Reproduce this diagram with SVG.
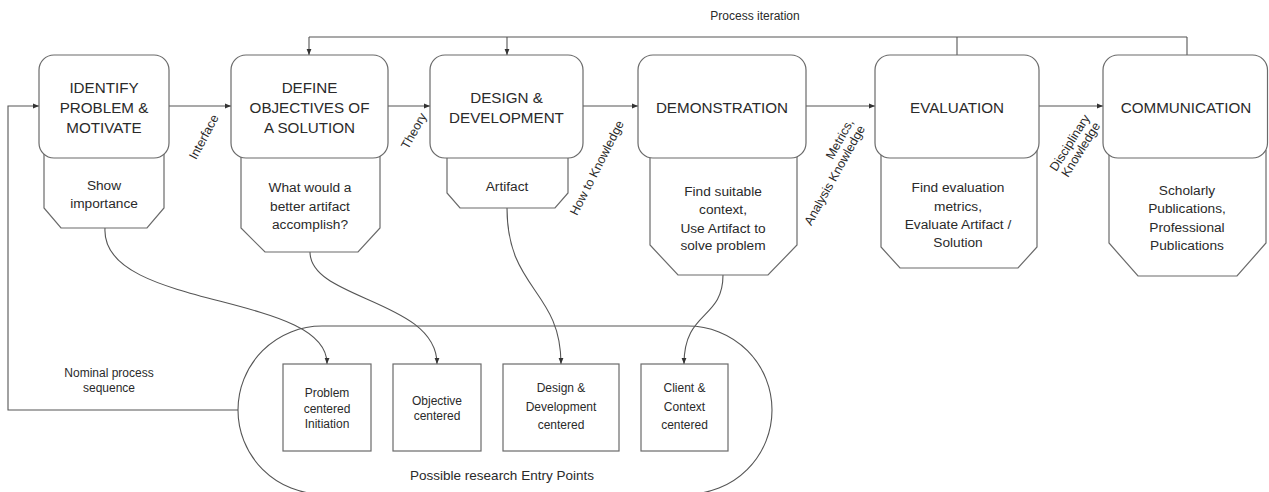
<svg xmlns="http://www.w3.org/2000/svg" width="1269" height="492" viewBox="0 0 1269 492">
<defs>
<marker id="ah" viewBox="0 0 10 10" refX="10" refY="5" markerWidth="6" markerHeight="6" markerUnits="userSpaceOnUse" orient="auto">
<path d="M0,1 L10,5 L0,9 Z" fill="#333"/>
</marker>
<style>
.box{fill:#fff;stroke:#6a6a6a;stroke-width:1.2}
.sub{fill:#fff;stroke:#6a6a6a;stroke-width:1.2}
.ln{fill:none;stroke:#555;stroke-width:1.1}
.t{font-family:"Liberation Sans",Arial,sans-serif;fill:#2a2a2a;text-anchor:middle}
.title{font-size:15.2px}
.s{font-size:13.7px}
.lab{font-size:12.5px}
.sm{font-size:12px}
</style>
</defs>
<rect width="1269" height="492" fill="#fff"/>

<g id="connectors">
<path class="ln" d="M309,37 H1187"/>
<path class="ln" d="M309,37 V55" marker-end="url(#ah)"/>
<path class="ln" d="M507,37 V55" marker-end="url(#ah)"/>
<path class="ln" d="M957,37 V55"/>
<path class="ln" d="M1187,37 V55"/>
<path class="ln" d="M169,106 H231" marker-end="url(#ah)"/>
<path class="ln" d="M388,106 H430" marker-end="url(#ah)"/>
<path class="ln" d="M583,106 H638" marker-end="url(#ah)"/>
<path class="ln" d="M806,106 H875" marker-end="url(#ah)"/>
<path class="ln" d="M1039,106 H1103" marker-end="url(#ah)"/>
<path class="ln" d="M238,410 H8 V106 H39" marker-end="url(#ah)"/>
<path class="ln" d="M105,228 C100,310 328,292 327,364" marker-end="url(#ah)"/>
<path class="ln" d="M310,252 C310,300 437,300 437,364" marker-end="url(#ah)"/>
<path class="ln" d="M507,208 C507,290 561,290 561,364" marker-end="url(#ah)"/>
<path class="ln" d="M723,275 C723,320 684,310 684,364" marker-end="url(#ah)"/>
<text class="t sm" x="755" y="20">Process iteration</text>
<text class="t sm" x="109" y="377">Nominal process</text>
<text class="t sm" x="109" y="392">sequence</text>
<g transform="translate(204,137) rotate(-62)"><text class="t lab" x="0" y="4">Interface</text></g>
<g transform="translate(414,131) rotate(-61)"><text class="t lab" x="0" y="4">Theory</text></g>
<g transform="translate(597,168) rotate(-63)"><text class="t lab" x="0" y="4">How to Knowledge</text></g>
<g transform="translate(854,122) rotate(-61)"><text class="t lab" style="text-anchor:end" x="0" y="0">Metrics,</text><text class="t lab" style="text-anchor:end" x="0" y="13">Analysis Knowledge</text></g>
<g transform="translate(1075,146) rotate(-58)"><text class="t lab" x="0" y="-2">Disciplinary</text><text class="t lab" x="0" y="11">Knowledge</text></g>
</g>

<g id="n1">
<path class="sub" d="M44,150 V208 L61,228 H147 L164,208 V150"/>
<rect class="box" x="39" y="55" width="130" height="103" rx="15"/>
<text class="t title" x="104" y="92.5">IDENTIFY</text>
<text class="t title" x="104" y="112.5">PROBLEM &amp;</text>
<text class="t title" x="104" y="132.5">MOTIVATE</text>
<text class="t s" x="104" y="190">Show</text>
<text class="t s" x="104" y="207.5">importance</text>
</g>

<g id="n2">
<path class="sub" d="M241,150 V228 L265,252 H358 L380,228 V150"/>
<rect class="box" x="231" y="55" width="157" height="103" rx="15"/>
<text class="t title" x="309.5" y="92.5">DEFINE</text>
<text class="t title" x="309.5" y="112.5">OBJECTIVES OF</text>
<text class="t title" x="309.5" y="132.5">A SOLUTION</text>
<text class="t s" x="310" y="192">What would a</text>
<text class="t s" x="310" y="210.5">better artifact</text>
<text class="t s" x="310" y="229">accomplish?</text>
</g>

<g id="n3">
<path class="sub" d="M447,150 V193 L460,208 H555 L568,193 V150"/>
<rect class="box" x="430" y="55" width="153" height="103" rx="15"/>
<text class="t title" x="506.5" y="102.5">DESIGN &amp;</text>
<text class="t title" x="506.5" y="122.5">DEVELOPMENT</text>
<text class="t s" x="507" y="191">Artifact</text>
</g>

<g id="n4">
<path class="sub" d="M650,150 V245 L678,275 H768 L797,245 V150"/>
<rect class="box" x="638" y="55" width="168" height="103" rx="15"/>
<text class="t title" x="722" y="112.5">DEMONSTRATION</text>
<text class="t s" x="723" y="196">Find suitable</text>
<text class="t s" x="723" y="214">context,</text>
<text class="t s" x="723" y="232.5">Use Artifact to</text>
<text class="t s" x="723" y="250">solve problem</text>
</g>

<g id="n5">
<path class="sub" d="M881,150 V247 L900,268 H1018 L1037,247 V150"/>
<rect class="box" x="875" y="55" width="164" height="103" rx="15"/>
<text class="t title" x="957" y="112.5">EVALUATION</text>
<text class="t s" x="958" y="192">Find evaluation</text>
<text class="t s" x="958" y="210.5">metrics,</text>
<text class="t s" x="958" y="229">Evaluate Artifact /</text>
<text class="t s" x="958" y="247">Solution</text>
</g>

<g id="n6">
<path class="sub" d="M1109,150 V243 L1138,276 H1237 L1266,243 V150"/>
<rect class="box" x="1103" y="55" width="164.5" height="103" rx="15"/>
<text class="t title" x="1186" y="112.5">COMMUNICATION</text>
<text class="t s" x="1187" y="195">Scholarly</text>
<text class="t s" x="1187" y="213">Publications,</text>
<text class="t s" x="1187" y="232">Professional</text>
<text class="t s" x="1187" y="250">Publications</text>
</g>

<g id="entry">
<rect x="238" y="326" width="534" height="168" rx="84" ry="84" fill="none" stroke="#555" stroke-width="1.1"/>
<text class="t" style="font-size:13.5px" x="502" y="480">Possible research Entry Points</text>
</g>

<g id="e1">
<rect class="box" x="283" y="364" width="88" height="87"/>
<text class="t sm" x="327" y="397">Problem</text>
<text class="t sm" x="327" y="412.5">centered</text>
<text class="t sm" x="327" y="428">Initiation</text>
</g>
<g id="e2">
<rect class="box" x="393" y="364" width="88" height="87"/>
<text class="t sm" x="437" y="405">Objective</text>
<text class="t sm" x="437" y="420">centered</text>
</g>
<g id="e3">
<rect class="box" x="503" y="364" width="116" height="87"/>
<text class="t sm" x="561" y="392">Design &amp;</text>
<text class="t sm" x="561" y="410.5">Development</text>
<text class="t sm" x="561" y="429">centered</text>
</g>
<g id="e4">
<rect class="box" x="641" y="364" width="87" height="87"/>
<text class="t sm" x="684.5" y="392">Client &amp;</text>
<text class="t sm" x="684.5" y="410.5">Context</text>
<text class="t sm" x="684.5" y="429">centered</text>
</g>
</svg>
